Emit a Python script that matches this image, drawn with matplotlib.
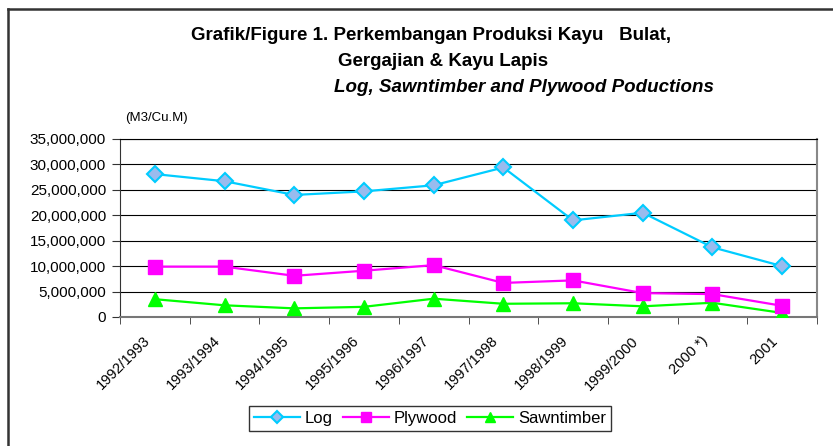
import numpy as np
import matplotlib
matplotlib.use('Agg')
import matplotlib.pyplot as plt
import matplotlib.transforms as mtransforms
from matplotlib.lines import Line2D
from matplotlib.ticker import FuncFormatter, FixedLocator

plt.rcParams['font.family'] = ['Liberation Sans', 'DejaVu Sans']

# data (M3/Cu.M)
years = ['1992/1993', '1993/1994', '1994/1995', '1995/1996', '1996/1997',
         '1997/1998', '1998/1999', '1999/2000', '2000 *)', '2001']
log = [28100000, 26700000, 24000000, 24700000, 25900000,
       29400000, 19000000, 20500000, 13700000, 10000000]
plywood = [9900000, 9900000, 8100000, 9100000, 10200000,
           6700000, 7200000, 4700000, 4500000, 2200000]
sawntimber = [3500000, 2300000, 1700000, 2000000, 3600000,
              2600000, 2700000, 2100000, 2800000, 800000]

fig = plt.figure(figsize=(8.33, 4.46), dpi=100)
ax = fig.add_axes([120 / 833, 1 - 317 / 446, (817 - 120) / 833, (317 - 139) / 446])

x = np.arange(len(years))
ax.plot(x, log, color='#00CCFF', lw=1.6, marker='D', ms=8,
        mfc='#99BBEE', mec='#00CCFF', mew=1.5, label='Log', zorder=5)
ax.plot(x, plywood, color='#FF00FF', lw=1.6, marker='s', ms=10,
        mfc='#FF00FF', mec='#FF00FF', label='Plywood', zorder=4)
ax.plot(x, sawntimber, color='#00FF00', lw=1.6, marker='^', ms=10,
        mfc='#00FF00', mec='#00FF00', label='Sawntimber', zorder=3)

ax.set_xlim(-0.5, len(years) - 0.5)
ax.set_ylim(0, 35000000)
ax.set_yticks(np.arange(0, 35000001, 5000000))
ax.yaxis.set_major_formatter(FuncFormatter(lambda v, p: '{:,.0f}'.format(v)))
ax.grid(axis='y', color='black', lw=0.8)
ax.set_axisbelow(True)

# label kategori di tengah, tick di antara kategori
ax.set_xticks(x)
ax.set_xticklabels(years, rotation=45, ha='right', rotation_mode='anchor')
ax.tick_params(axis='x', which='major', length=0, pad=12, labelsize=10.5)
shift = mtransforms.ScaledTranslation(-12 / 100, 0, fig.dpi_scale_trans)
for lbl in ax.get_xticklabels():
    lbl.set_transform(lbl.get_transform() + shift)
ax.xaxis.set_minor_locator(FixedLocator(np.arange(-0.5, len(years), 1)))
ax.tick_params(axis='x', which='minor', length=5, color='#333333')
ax.tick_params(axis='y', length=6, labelsize=11, color='#333333', pad=4)

ax.spines['left'].set_color('#333333')
ax.spines['bottom'].set_color('#777777')
ax.spines['bottom'].set_linewidth(1.5)
ax.spines['right'].set_color('#888888')
ax.spines['right'].set_linewidth(1.5)
ax.spines['top'].set_color('black')
ax.spines['top'].set_linewidth(0.8)

# judul
fig.text(431 / 833, 1 - 35 / 446, 'Grafik/Figure 1. Perkembangan Produksi Kayu   Bulat,',
         ha='center', va='center', fontsize=13.5, fontweight='bold')
fig.text(443 / 833, 1 - 62 / 446, 'Gergajian & Kayu Lapis',
         ha='center', va='center', fontsize=13.5, fontweight='bold')
fig.text(524 / 833, 1 - 88 / 446, 'Log, Sawntimber and Plywood Poductions',
         ha='center', va='center', fontsize=13.5, fontweight='bold', style='italic')
fig.text(125 / 833, 1 - 118 / 446, '(M3/Cu.M)', ha='left', va='center', fontsize=9.5)

# bingkai luar
fig.add_artist(Line2D([8 / 833, 8 / 833], [0, 1 - 9 / 446], transform=fig.transFigure,
                      color='#333333', lw=1.8))
fig.add_artist(Line2D([8 / 833, 1], [1 - 9 / 446, 1 - 9 / 446], transform=fig.transFigure,
                      color='#333333', lw=1.8))

leg = fig.legend(loc='center', bbox_to_anchor=(430 / 833, 1 - 418.5 / 446), ncol=3,
                 fontsize=12, frameon=True, fancybox=False, edgecolor='black',
                 handlelength=2.75, columnspacing=0.6, handletextpad=0.3,
                 borderpad=0.3, borderaxespad=0, markerscale=0.75)
leg.get_frame().set_linewidth(1.0)

plt.savefig('out.png', dpi=100)
